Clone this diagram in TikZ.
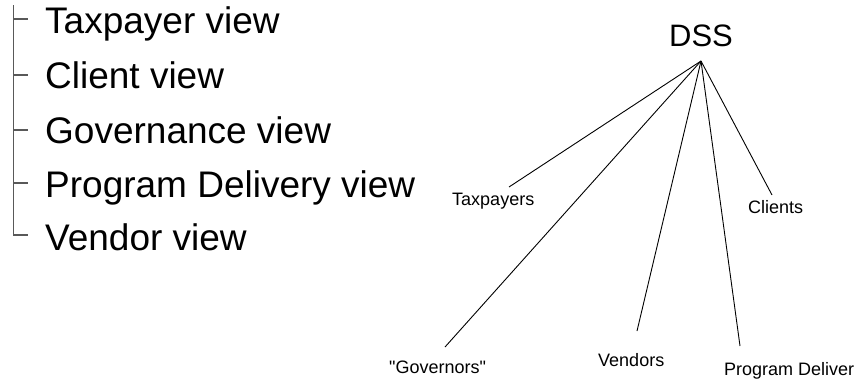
\documentclass[tikz,border=0pt]{standalone}
\usepackage{fontspec}
\setmainfont{Liberation Sans}
\newfontfamily\plainfont{Liberation Sans}
\usetikzlibrary{positioning}

\begin{document}
\begin{tikzpicture}[x=1pt, y=-1pt, every node/.style={inner sep=0pt, anchor=base west},
  viewtext/.style={font=\fontsize{37}{37}\selectfont},
  roottext/.style={font=\fontsize{31}{31}\selectfont, anchor=base},
  leaftext/.style={font=\plainfont\fontsize{18}{18}\selectfont},
  branch/.style={line width=1.4pt, black!65},
  spoke/.style={line width=0.9pt}]
  \useasboundingbox (0,0) rectangle (866,381);

  % Left list of views
  \begin{scope}
    \node[viewtext] (taxview) at (45,33) {Taxpayer view};
    \node[viewtext] (clientview) at (45,88) {Client view};
    \node[viewtext] (govview) at (45,143) {Governance view};
    \node[viewtext] (progview) at (45,197) {Program Delivery view};
    \node[viewtext] (vendview) at (45,250) {Vendor view};
    \draw[branch] (13.5,5) |- (28,235);
    \foreach \y in {19,75,130,183}
      \draw[branch] (13.5,\y) -- (28,\y);
  \end{scope}

  % Right tree
  \begin{scope}
    \node[roottext] (dss) at (701,46) {DSS};
    \coordinate (hub) at (701,61);
    \node[leaftext] (taxpayers) at (452,205) {Taxpayers};
    \node[leaftext] (clients) at (748,213) {Clients};
    \node[leaftext] (governors) at (389,373) {"Governors"};
    \node[leaftext] (vendors) at (598,366) {Vendors};
    \node[leaftext] (progdeliver) at (724,375) {Program Deliver};
    \coordinate (taxend) at (509,187);
    \coordinate (clientend) at (772,195);
    \coordinate (govend) at (445,347);
    \coordinate (vendend) at (637,331);
    \coordinate (progend) at (740,346);
    \foreach \e in {taxend,govend,vendend,progend,clientend}
      \draw[spoke] (hub) -- (\e);
  \end{scope}
\end{tikzpicture}
\end{document}
